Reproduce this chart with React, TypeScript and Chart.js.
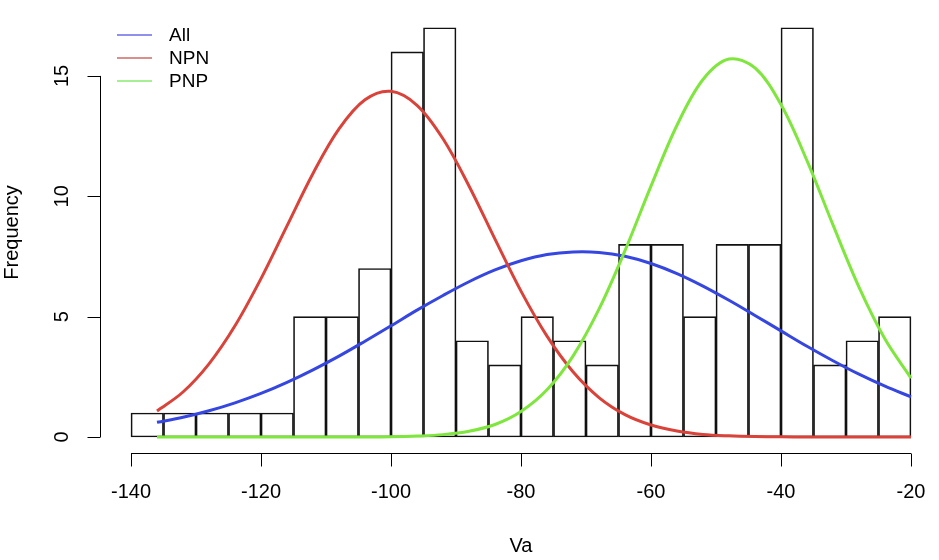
import React, { useEffect, useRef } from "react";
import { Chart, registerables } from "chart.js";

Chart.register(...registerables);

// Histogram bins (width 5) — centers and counts
const binCenters = [
  -137.5, -132.5, -127.5, -122.5, -117.5, -112.5, -107.5, -102.5, -97.5, -92.5,
  -87.5, -82.5, -77.5, -72.5, -67.5, -62.5, -57.5, -52.5, -47.5, -42.5,
  -37.5, -32.5, -27.5, -22.5,
];
const counts = [1, 1, 1, 1, 1, 5, 5, 7, 16, 17, 4, 3, 5, 4, 3, 8, 8, 5, 8, 8, 17, 3, 4, 5];

// Fitted curve sample positions and values
const curveX = [
  -136, -132, -128, -124, -120, -116, -112, -108, -104, -100,
  -96, -92, -88, -84, -80, -76, -72, -68, -64, -60,
  -56, -52, -48, -44, -40, -36, -32, -28, -24, -20,
];
const allFit = [
  0.61, 0.82, 1.09, 1.42, 1.81, 2.27, 2.79, 3.36, 3.98, 4.62,
  5.27, 5.88, 6.45, 6.94, 7.32, 7.58, 7.69, 7.67, 7.51, 7.21,
  6.79, 6.27, 5.68, 5.05, 4.41, 3.77, 3.17, 2.61, 2.11, 1.67,
];
const npnFit = [
  1.08, 1.87, 3.04, 4.62, 6.58, 8.77, 10.95, 12.8, 14.01, 14.36,
  13.78, 12.39, 10.43, 8.22, 6.06, 4.19, 2.71, 1.64, 0.93, 0.5,
  0.25, 0.11, 0.05, 0.02, 0.01, 0, 0, 0, 0, 0,
];
const pnpFit = [
  0, 0, 0, 0, 0, 0, 0, 0, 0, 0.01,
  0.04, 0.1, 0.24, 0.52, 1.06, 1.96, 3.36, 5.31, 7.74, 10.42,
  12.95, 14.85, 15.7, 15.33, 13.81, 11.48, 8.81, 6.23, 4.07, 2.45,
];

const seriesNames = ["All", "NPN", "PNP"];
const seriesColors = ["#3547e0", "#d9433a", "#7ee63c"];
const legendColors = ["#6a6ae6", "#cf6a66", "#88ea6e"];

const xTicks = [-140, -120, -100, -80, -60, -40, -20];
const yTicks = [0, 5, 10, 15];
const xTitle = "Va";
const yTitle = "Frequency";

const FONT = '"Liberation Sans", Arial, Helvetica, sans-serif';

const rAxesPlugin = {
  id: "rAxes",
  afterDraw(chart: any) {
    const ctx = chart.ctx as CanvasRenderingContext2D;
    const xs = chart.scales.x;
    const ys = chart.scales.y;
    const area = chart.chartArea;
    ctx.save();
    ctx.strokeStyle = "#000";
    ctx.fillStyle = "#000";
    ctx.lineWidth = 1;

    // X axis
    const yAx = Math.round(area.bottom) + 0.5;
    const x0 = xs.getPixelForValue(xTicks[0]);
    const x1 = xs.getPixelForValue(xTicks[xTicks.length - 1]);
    ctx.beginPath();
    ctx.moveTo(x0, yAx);
    ctx.lineTo(x1, yAx);
    xTicks.forEach((v) => {
      const px = Math.round(xs.getPixelForValue(v)) + 0.5;
      ctx.moveTo(px, yAx);
      ctx.lineTo(px, yAx + 13);
    });
    ctx.stroke();
    ctx.font = `20px ${FONT}`;
    ctx.textAlign = "center";
    ctx.textBaseline = "middle";
    xTicks.forEach((v) => {
      ctx.fillText(String(v), xs.getPixelForValue(v), yAx + 39);
    });

    // Y axis
    const xAx = Math.round(area.left) + 0.5;
    const yb = ys.getPixelForValue(yTicks[0]);
    const yt = ys.getPixelForValue(yTicks[yTicks.length - 1]);
    ctx.beginPath();
    ctx.moveTo(xAx, yb);
    ctx.lineTo(xAx, yt);
    yTicks.forEach((v) => {
      const py = Math.round(ys.getPixelForValue(v)) + 0.5;
      ctx.moveTo(xAx, py);
      ctx.lineTo(xAx - 13, py);
    });
    ctx.stroke();
    yTicks.forEach((v) => {
      const py = ys.getPixelForValue(v);
      ctx.save();
      ctx.translate(xAx - 38, py);
      ctx.rotate(-Math.PI / 2);
      ctx.fillText(String(v), 0, 0);
      ctx.restore();
    });

    // Axis titles
    ctx.fillText(xTitle, (area.left + area.right + 3) / 2, 546);
    ctx.save();
    ctx.translate(12, (area.top + area.bottom) / 2);
    ctx.rotate(-Math.PI / 2);
    ctx.fillText(yTitle, 0, 0);
    ctx.restore();

    // Legend
    ctx.font = `19px ${FONT}`;
    ctx.textAlign = "left";
    seriesNames.forEach((name, i) => {
      const ly = 35 + i * 23;
      ctx.beginPath();
      ctx.strokeStyle = legendColors[i];
      ctx.lineWidth = 1.5;
      ctx.moveTo(117, ly);
      ctx.lineTo(152, ly);
      ctx.stroke();
      ctx.fillStyle = "#000";
      ctx.fillText(name, 169, ly + 1);
    });
    ctx.restore();
  },
};

export default function App() {
  const ref = useRef<HTMLCanvasElement | null>(null);

  useEffect(() => {
    document.body.style.margin = "0";
    const canvas = ref.current;
    if (!canvas) return;
    const fits = [allFit, npnFit, pnpFit];
    const lineSets = seriesNames.map((name, i) => ({
      type: "line" as const,
      label: name,
      data: curveX.map((x, j) => ({ x, y: fits[i][j] })),
      borderColor: seriesColors[i],
      backgroundColor: seriesColors[i],
      borderWidth: 3,
      pointRadius: 0,
      fill: false,
      tension: 0.35,
      order: 3 - i,
    }));
    const chart = new Chart(canvas, {
      type: "bar",
      data: {
        datasets: [
          {
            type: "bar" as const,
            label: "Histogram",
            data: binCenters.map((x, i) => ({ x, y: counts[i] })),
            backgroundColor: "rgba(255,255,255,0)",
            borderColor: "#111",
            borderWidth: 1,
            borderSkipped: false,
            barPercentage: 1,
            categoryPercentage: 1,
            order: 10,
          } as any,
          ...lineSets,
        ],
      },
      options: {
        responsive: false,
        animation: false,
        layout: { padding: { left: 100, right: 0, top: 11.4, bottom: 106.6 } },
        plugins: {
          legend: { display: false },
          tooltip: { enabled: false },
          title: { display: false },
        },
        scales: {
          x: {
            type: "linear",
            display: false,
            offset: false,
            min: -144.77,
            max: -15.69,
            afterBuildTicks: (s: any) => {
              s.ticks = xTicks.map((v) => ({ value: v }));
            },
          },
          y: {
            type: "linear",
            display: false,
            min: -0.68,
            max: 17.68,
            afterBuildTicks: (s: any) => {
              s.ticks = yTicks.map((v) => ({ value: v }));
            },
          },
        },
      },
      plugins: [rAxesPlugin],
    } as any);
    return () => chart.destroy();
  }, []);

  return (
    <div style={{ width: 939, height: 560, background: "#fff" }}>
      <canvas ref={ref} width={939} height={560} style={{ display: "block" }} />
    </div>
  );
}
